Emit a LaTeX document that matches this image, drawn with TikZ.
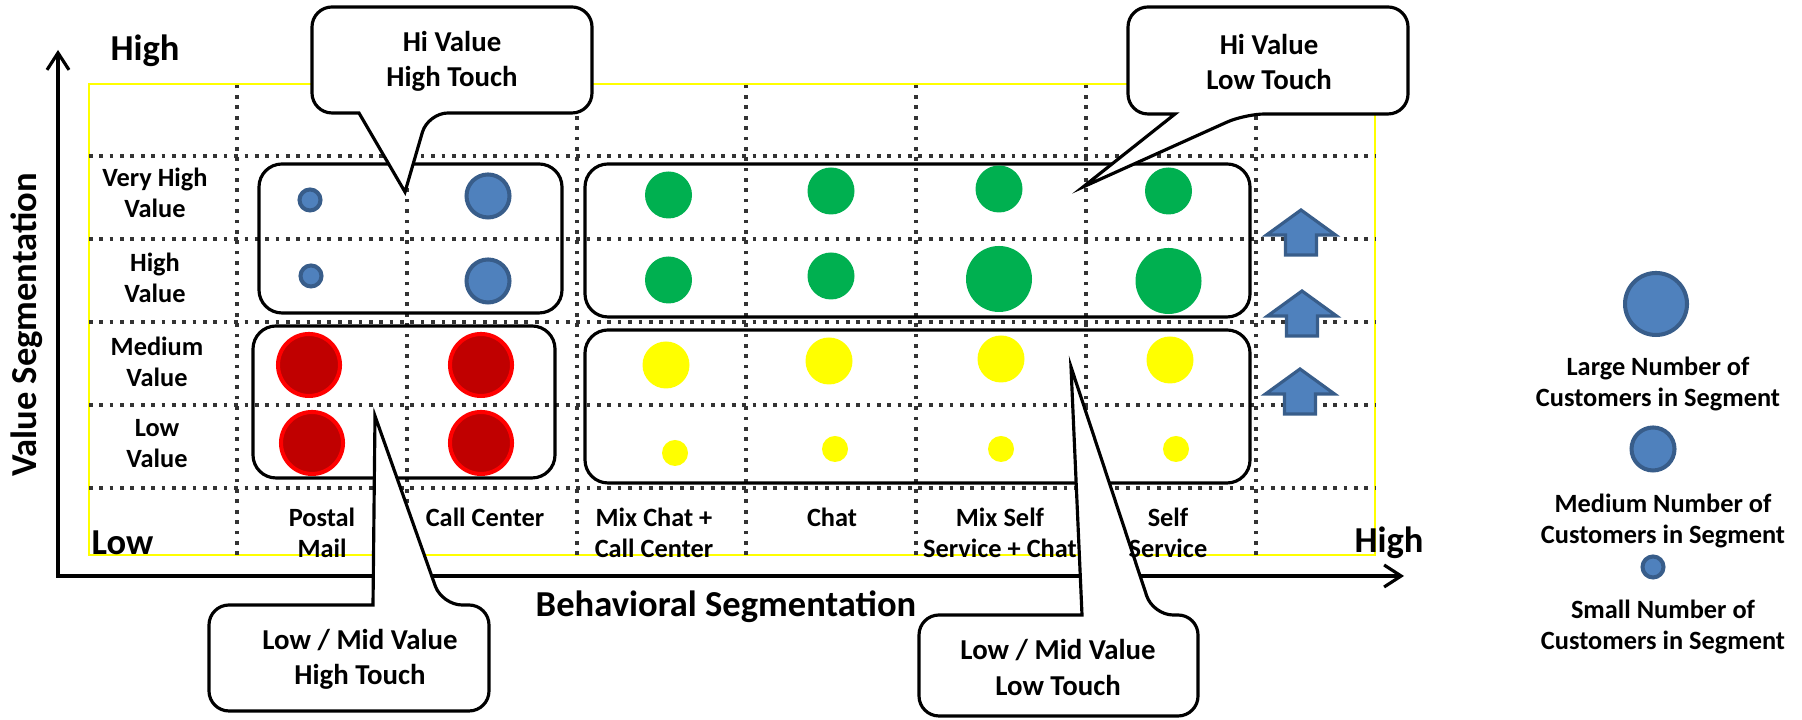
\documentclass[tikz,border=0pt]{standalone}
\usepackage{fontspec}
\setmainfont{Carlito}
\usetikzlibrary{arrows.meta}
\definecolor{bluefill}{HTML}{4F81BD}
\definecolor{blueline}{HTML}{385D8A}
\definecolor{redfill}{HTML}{C00000}
\definecolor{redline}{HTML}{FF0000}
\definecolor{greenfill}{HTML}{00B050}
\definecolor{yellowfill}{HTML}{FFFF00}
\begin{document}
\begin{tikzpicture}
  \tikzstyle{gridline}=[line width=1.05pt, dash pattern=on 1.05pt off 1.9pt, black!80]
  \tikzstyle{axis}=[line width=0.9pt, {Straight Barb[length=0.17cm,width=0.22cm]}-{Straight Barb[length=0.17cm,width=0.22cm]}]
  \tikzstyle{segbox}=[draw, line width=0.9pt, rounded corners=0.23cm]
  \tikzstyle{notebox}=[draw, line width=0.9pt, fill=white]
  \tikzstyle{notetext}=[align=center, inner sep=0pt, font=\bfseries\fontsize{8.2}{10}\selectfont]
  \tikzstyle{rowlabel}=[align=center, inner sep=0pt, font=\bfseries\fontsize{7.5}{8.8}\selectfont]
  \tikzstyle{legendtext}=[align=center, inner sep=0pt, font=\bfseries\fontsize{7.5}{9.1}\selectfont]
  \tikzstyle{axislabel}=[inner sep=0pt, font=\bfseries\fontsize{10.4}{12}\selectfont]
  \tikzstyle{bluesmall}=[circle, draw=blueline, fill=bluefill, line width=1.15pt, minimum size=0.21cm, inner sep=0pt]
  \tikzstyle{bluemed}=[bluesmall, minimum size=0.43cm]
  \tikzstyle{bluelarge}=[bluesmall, minimum size=0.62cm]
  \tikzstyle{reddot}=[circle, draw=redline, fill=redfill, line width=1.15pt, minimum size=0.62cm, inner sep=0pt]
  \tikzstyle{greenmed}=[circle, fill=greenfill, minimum size=0.47cm, inner sep=0pt]
  \tikzstyle{greenbig}=[greenmed, minimum size=0.66cm]
  \tikzstyle{yellowmed}=[circle, fill=yellowfill, minimum size=0.47cm, inner sep=0pt]
  \tikzstyle{yellowsmall}=[yellowmed, minimum size=0.26cm]
  \tikzstyle{uparrow}=[draw=blueline, fill=bluefill, line width=0.9pt]

  \useasboundingbox (0,0) rectangle (18.02,7.20);

  % frame and dotted grid
  \draw[yellowfill, line width=0.5pt] (0.89,1.65) rectangle (13.75,6.36);
  \draw[gridline] (2.37,1.65) -- (2.37,6.36);
  \draw[gridline] (4.07,1.65) -- (4.07,6.36);
  \draw[gridline] (5.77,1.65) -- (5.77,6.36);
  \draw[gridline] (7.46,1.65) -- (7.46,6.36);
  \draw[gridline] (9.16,1.65) -- (9.16,6.36);
  \draw[gridline] (10.86,1.65) -- (10.86,6.36);
  \draw[gridline] (12.56,1.65) -- (12.56,6.36);
  \draw[gridline] (0.89,5.64) -- (13.75,5.64);
  \draw[gridline] (0.89,4.81) -- (13.75,4.81);
  \draw[gridline] (0.89,3.98) -- (13.75,3.98);
  \draw[gridline] (0.89,3.15) -- (13.75,3.15);
  \draw[gridline] (0.89,2.32) -- (13.75,2.32);

  % axes
  \coordinate (origin) at (0.58,1.44);
  \coordinate (ytop) at (0.58,6.70);
  \coordinate (xend) at (14.04,1.44);
  \draw[axis] (ytop) -- (origin) -- (xend);

  % segment groups
  \draw[segbox] (2.59,5.56) rectangle (5.62,4.07);
  \draw[segbox] (2.53,3.94) rectangle (5.55,2.42);
  \draw[segbox] (5.85,5.56) rectangle (12.50,4.03);
  \draw[segbox] (5.85,3.90) rectangle (12.50,2.37);

  % customers per segment
  \node[bluesmall] (vh1) at (3.10,5.20) {};
  \node[bluemed]   (vh2) at (4.88,5.24) {};
  \node[greenmed]  (vh3) at (6.685,5.25) {};
  \node[greenmed]  (vh4) at (8.31,5.29) {};
  \node[greenmed]  (vh5) at (9.99,5.31) {};
  \node[greenmed]  (vh6) at (11.685,5.29) {};

  \node[bluesmall] (h1) at (3.11,4.44) {};
  \node[bluemed]   (h2) at (4.88,4.39) {};
  \node[greenmed]  (h3) at (6.685,4.40) {};
  \node[greenmed]  (h4) at (8.31,4.44) {};
  \node[greenbig]  (h5) at (9.99,4.41) {};
  \node[greenbig]  (h6) at (11.685,4.39) {};

  \node[reddot]    (m1) at (3.09,3.55) {};
  \node[reddot]    (m2) at (4.81,3.55) {};
  \node[yellowmed] (m3) at (6.66,3.55) {};
  \node[yellowmed] (m4) at (8.29,3.59) {};
  \node[yellowmed] (m5) at (10.01,3.61) {};
  \node[yellowmed] (m6) at (11.70,3.60) {};

  \node[reddot]      (l1) at (3.12,2.77) {};
  \node[reddot]      (l2) at (4.81,2.77) {};
  \node[yellowsmall] (l3) at (6.75,2.67) {};
  \node[yellowsmall] (l4) at (8.35,2.71) {};
  \node[yellowsmall] (l5) at (10.01,2.71) {};
  \node[yellowsmall] (l6) at (11.76,2.71) {};

  % moving up
  \draw[uparrow] (13.01,5.10) -- (13.355,4.85) -- (13.165,4.85) -- (13.165,4.65) -- (12.855,4.65) -- (12.855,4.85) -- (12.665,4.85) -- cycle;
  \draw[uparrow] (13.02,4.29) -- (13.365,4.04) -- (13.175,4.04) -- (13.175,3.84) -- (12.865,3.84) -- (12.865,4.04) -- (12.675,4.04) -- cycle;
  \draw[uparrow] (13.00,3.51) -- (13.345,3.26) -- (13.155,3.26) -- (13.155,3.06) -- (12.845,3.06) -- (12.845,3.26) -- (12.655,3.26) -- cycle;

  % callouts
  \draw[notebox] (4.05,5.28) -- (3.59,6.07) [rounded corners=0.2cm] -- (3.12,6.07) -- (3.12,7.13) -- (5.92,7.13) -- (5.92,6.07) -- (4.28,6.07) [sharp corners] -- cycle;
  \draw[notebox] (10.83,5.33) -- (11.75,6.06) [rounded corners=0.2cm] -- (11.28,6.06) -- (11.28,7.13) -- (14.08,7.13) -- (14.08,6.06) -- (12.45,6.06) [sharp corners] -- cycle;
  \draw[notebox] (3.75,3.04) -- (3.73,1.15) [rounded corners=0.2cm] -- (2.09,1.15) -- (2.09,0.09) -- (4.89,0.09) -- (4.89,1.15) -- (4.42,1.15) [sharp corners] -- cycle;
  \draw[notebox] (10.71,3.53) -- (10.82,1.05) [rounded corners=0.2cm] -- (9.19,1.05) -- (9.19,0.04) -- (11.98,0.04) -- (11.98,1.05) -- (11.53,1.05) [sharp corners] -- cycle;
  \node[notetext] (hhnote) at (4.52,6.585) {Hi Value\\High Touch};
  \node[notetext] (hlnote) at (12.69,6.58) {Hi Value\\Low Touch};
  \node[notetext] (lhnote) at (3.60,0.605) {Low / Mid Value\\High Touch};
  \node[notetext] (llnote) at (10.58,0.525) {Low / Mid Value\\Low Touch};

  % row and column labels
  \node[rowlabel] (vhv) at (1.55,5.275) {Very High\\Value};
  \node[rowlabel] (hv)  at (1.55,4.425) {High\\Value};
  \node[rowlabel] (mv)  at (1.57,3.585) {Medium\\Value};
  \node[rowlabel] (lv)  at (1.57,2.76)  {Low\\Value};

  \node[rowlabel] (postal) at (3.22,1.875)  {Postal\\Mail};
  \node[rowlabel] (callc)  at (4.85,2.03)   {Call Center};
  \node[rowlabel] (mixcc)  at (6.54,1.875)  {Mix Chat +\\Call Center};
  \node[rowlabel] (chat)   at (8.32,2.03)   {Chat};
  \node[rowlabel] (mixsc)  at (10.00,1.875) {Mix Self\\Service + Chat};
  \node[rowlabel] (self)   at (11.68,1.875) {Self\\Service};

  % axis labels
  \node[axislabel, anchor=base] (ahigh) at (1.45,6.59) {High};
  \node[axislabel, anchor=base west] (xlow) at (0.91,1.65) {Low};
  \node[axislabel, anchor=base] (xhigh) at (13.89,1.67) {High};
  \node[axislabel, anchor=base] (xtitle) at (7.26,1.03) {Behavioral Segmentation};
  \node[axislabel, rotate=90] (ytitle) at (0.27,3.95) {Value Segmentation};

  % legend
  \node[bluelarge] (leglarge) at (16.56,4.16) {};
  \node[legendtext] (largetext) at (16.58,3.36) {Large Number of\\Customers in Segment};
  \node[bluemed] (legmed) at (16.53,2.71) {};
  \node[legendtext] (medtext) at (16.63,1.99) {Medium Number of\\Customers in Segment};
  \node[bluesmall] (legsmall) at (16.53,1.53) {};
  \node[legendtext] (smalltext) at (16.63,0.93) {Small Number of\\Customers in Segment};
\end{tikzpicture}
\end{document}
